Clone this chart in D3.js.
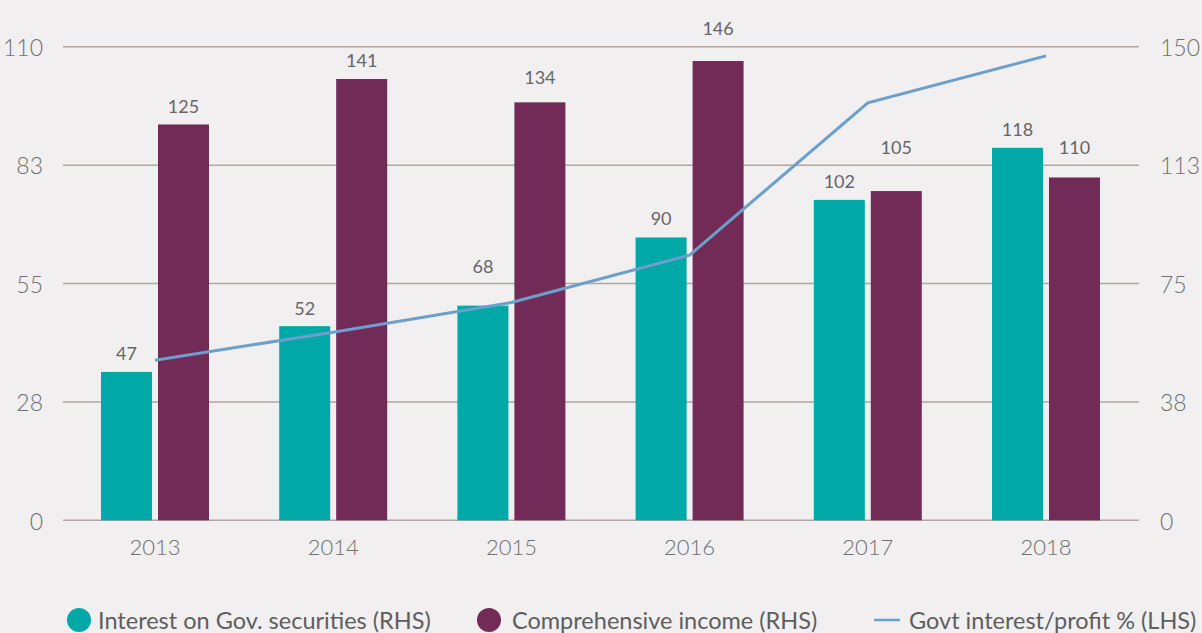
<!DOCTYPE html>
<html>
<head>
<meta charset="utf-8">
<script src="https://cdn.jsdelivr.net/npm/d3@7"></script>
<style>
  html, body { margin: 0; padding: 0; background: #f1eff0; }
  svg { display: block; font-family: Lato, "Open Sans", sans-serif; }
</style>
</head>
<body>
<script>
// data
var years = ["2013", "2014", "2015", "2016", "2017", "2018"]
var interest = [47, 61.5, 68, 89.6, 101.5, 118]        // bar heights (RHS)
var interestLabels = ["47", "52", "68", "90", "102", "118"]
var income = [125.4, 139.8, 132.4, 145.5, 104.3, 108.6]  // bar heights (RHS)
var incomeLabels = ["125", "141", "134", "146", "105", "110"]
var ratio = [37.2, 43.7, 50.6, 61.6, 97.0, 107.9]      // line (LHS)
var leftTicks = [0, 27.5, 55, 82.5, 110]
var rightTicks = [0, 37.5, 75, 112.5, 150]
var seriesNames = ["Interest on Gov. securities (RHS)", "Comprehensive income (RHS)", "Govt interest/profit % (LHS)"]

// label gaps above the bar tops, as placed in the source
var interestGap = [12, 11, 33, 12, 12, 12]
var incomeGap = [11, 12, 18, 26, 37, 23]

var width = 1202, height = 633
var teal = "#00a8a8", plum = "#722b57", blue = "#6b9fcc", grid = "#b0a6a4"

var svg = d3.select("body").append("svg").attr("width", width).attr("height", height)

var x0 = d3.scaleBand().domain(years).range([65.9, 1135.1]).paddingInner(0.394).paddingOuter(0.197)
var x1 = d3.scaleBand().domain([0, 1]).range([0, x0.bandwidth()]).paddingInner(0.105)
var yL = d3.scaleLinear().domain([0, 110]).range([520.3, 46.8])
var yR = d3.scaleLinear().domain([0, 150]).range([520.3, 46.8])

// gridlines
svg.append("g").selectAll("line").data(leftTicks).enter().append("line")
  .attr("x1", 63).attr("x2", 1139)
  .attr("y1", d => yL(d)).attr("y2", d => yL(d))
  .attr("stroke", grid).attr("stroke-width", 1.5)

// left axis
var leftAxis = d3.axisLeft(yL).tickValues(leftTicks).tickFormat(d => Math.round(d)).tickSize(0).tickPadding(0)
var gl = svg.append("g").attr("transform", "translate(43,0)").call(leftAxis)
gl.select(".domain").remove()
gl.selectAll("text").attr("font-size", 23).attr("font-weight", 300).attr("fill", "#707070")
  .attr("font-family", "Lato, sans-serif").attr("dy", "0.38em")

// right axis
var rightAxis = d3.axisRight(yR).tickValues(rightTicks).tickFormat(d => Math.round(d)).tickSize(0).tickPadding(0)
var gr = svg.append("g").attr("transform", "translate(1160,0)").call(rightAxis)
gr.select(".domain").remove()
gr.selectAll("text").attr("font-size", 23).attr("font-weight", 300).attr("fill", "#707070")
  .attr("font-family", "Lato, sans-serif").attr("dy", "0.38em")

// x axis
var xAxis = d3.axisBottom(x0).tickSize(0).tickPadding(0)
var gx = svg.append("g").attr("transform", "translate(0,555)").call(xAxis)
gx.select(".domain").remove()
gx.selectAll("text").attr("font-size", 22).attr("font-weight", 300).attr("fill", "#707070")
  .attr("font-family", "Lato, sans-serif").attr("dy", 0)

// bars
var groups = svg.append("g").selectAll("g").data(years).enter().append("g")
  .attr("transform", d => "translate(" + x0(d) + ",0)")

groups.append("rect")
  .attr("x", x1(0)).attr("width", x1.bandwidth())
  .attr("y", (d, i) => yR(interest[i])).attr("height", (d, i) => yR(0) - yR(interest[i]))
  .attr("fill", teal)
groups.append("rect")
  .attr("x", x1(1)).attr("width", x1.bandwidth())
  .attr("y", (d, i) => yR(income[i])).attr("height", (d, i) => yR(0) - yR(income[i]))
  .attr("fill", plum)

// value labels
groups.append("text")
  .attr("x", x1(0) + x1.bandwidth() / 2)
  .attr("y", (d, i) => yR(interest[i]) - interestGap[i])
  .attr("text-anchor", "middle").attr("font-size", 18).attr("fill", "#666")
  .text((d, i) => interestLabels[i])
groups.append("text")
  .attr("x", x1(1) + x1.bandwidth() / 2)
  .attr("y", (d, i) => yR(income[i]) - incomeGap[i])
  .attr("text-anchor", "middle").attr("font-size", 18).attr("fill", "#666")
  .text((d, i) => incomeLabels[i])

// line
var line = d3.line()
  .x((d, i) => x0(years[i]) + x0.bandwidth() / 2)
  .y(d => yL(d))
svg.append("path").datum(ratio)
  .attr("d", line).attr("fill", "none")
  .attr("stroke", blue).attr("stroke-width", 3)

// legend
var legend = svg.append("g").attr("font-size", 23.5).attr("fill", "#5e5e5e")
legend.append("circle").attr("cx", 79).attr("cy", 620).attr("r", 12).attr("fill", teal)
legend.append("text").attr("x", 98).attr("y", 629).text(seriesNames[0])
legend.append("circle").attr("cx", 489).attr("cy", 620).attr("r", 12).attr("fill", plum)
legend.append("text").attr("x", 512).attr("y", 629).text(seriesNames[1])
legend.append("line").attr("x1", 874).attr("x2", 900).attr("y1", 620).attr("y2", 620)
  .attr("stroke", blue).attr("stroke-width", 2.5)
legend.append("text").attr("x", 909).attr("y", 629).text(seriesNames[2])
</script>
</body>
</html>
